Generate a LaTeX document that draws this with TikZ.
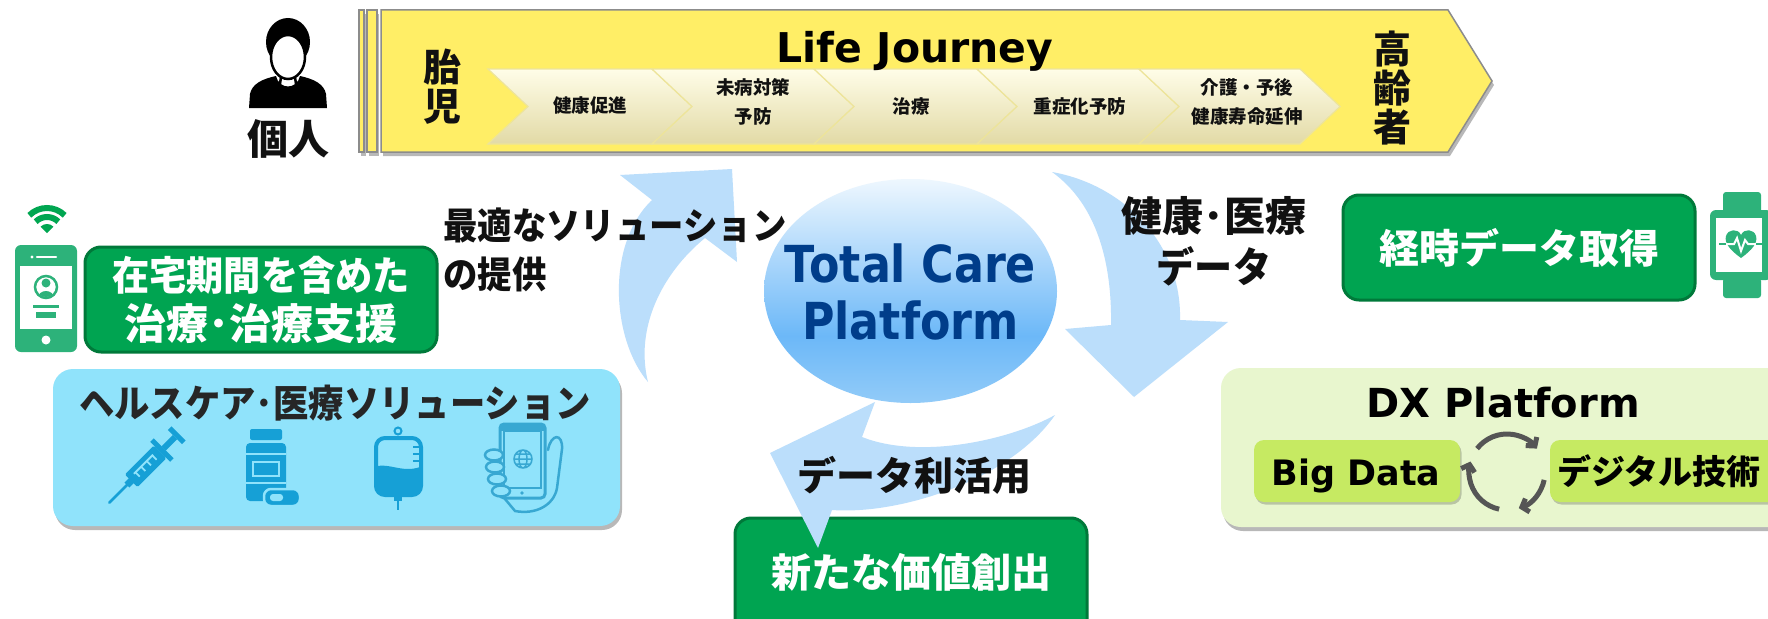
\documentclass[tikz,border=0pt]{standalone}
\usepackage{fontspec}
\setmainfont{DejaVu Sans}
\newfontfamily\jp{Noto Sans CJK JP}
\newfontfamily\jpc{Noto Sans CJK JP}[FakeStretch=0.93]
\newfontfamily\tcpsans{DejaVu Sans}[FakeStretch=0.87]
\usetikzlibrary{shadows,arrows.meta,calc,shapes.geometric}

\definecolor{bannerY}{HTML}{FFEE66}
\definecolor{bannerEdge}{HTML}{8C8C8C}
\definecolor{chevTop}{HTML}{FFFDE8}
\definecolor{chevBot}{HTML}{E2DAA6}
\definecolor{chevEdge}{HTML}{EDE49A}
\definecolor{goodGreen}{HTML}{00A451}
\definecolor{darkGreen}{HTML}{00793A}
\definecolor{iconGreen}{HTML}{2DB27A}
\definecolor{wifiGreen}{HTML}{00A651}
\definecolor{arrowBlue}{HTML}{BBDEFB}
\definecolor{navy}{HTML}{003D8A}
\definecolor{hcBox}{HTML}{90E3FB}
\definecolor{hcIcon}{HTML}{16A0D6}
\definecolor{hcHand}{HTML}{38A8D2}
\definecolor{dxBox}{HTML}{E8F6CE}
\definecolor{dxItem}{HTML}{C6EA62}
\definecolor{cycleGray}{HTML}{555555}
\definecolor{tcpTop}{HTML}{EEF7FE}
\definecolor{tcpMid}{HTML}{6CB8F8}
\definecolor{tcpBot}{HTML}{92CBF8}
\definecolor{inkBlack}{HTML}{111111}

\pgfdeclareverticalshading{tcpshade}{100bp}{color(0bp)=(tcpBot); color(25bp)=(tcpBot); color(40bp)=(tcpMid); color(75bp)=(tcpTop); color(100bp)=(tcpTop)}

\newcommand\jpb[2]{\jp\bfseries\fontsize{#1}{#2}\selectfont}
\newcommand\jpcb[2]{\jpc\bfseries\fontsize{#1}{#2}\selectfont}
\newcommand\latb[2]{\bfseries\fontsize{#1}{#2}\selectfont}

\tikzset{
  jplabel/.style={inner sep=0pt, align=center, text=inkBlack, font=\jpb{40}{49}},
  chevshape/.style={draw=chevEdge, line width=1.2pt, top color=chevTop, bottom color=chevBot},
  chevtext/.style={inner sep=0pt, align=center, text=inkBlack, font=\jpb{18.5}{29}},
  greenpanel/.style={fill=goodGreen, draw=darkGreen, line width=3pt, rounded corners=16pt, inner sep=0pt},
  paneltext/.style={inner sep=0pt, align=center, text=white, font=\jpb{40}{49}},
  softshadow/.style={drop shadow={shadow xshift=2pt, shadow yshift=-4pt, opacity=0.28, fill=black}},
  flowarrow/.style={fill=arrowBlue},
  cyclearc/.style={draw=cycleGray, line width=5pt, -{Straight Barb[length=6pt,width=14pt]}},
}

\begin{document}
\begin{tikzpicture}[x=1pt,y=-1pt]
\clip (0,0) rectangle (1768,618);
\fill[white] (0,0) rectangle (1768,618);

% ---------- life journey banner ----------
\draw[fill=bannerY, draw=bannerEdge, line width=1.5pt, softshadow] (359,10) rectangle (364,152);
\draw[fill=bannerY, draw=bannerEdge, line width=1.5pt, softshadow] (367,10) rectangle (377,152);
\draw[fill=bannerY, draw=bannerEdge, line width=1.5pt, softshadow]
  (381,10) -- (1448,10) -- (1492,81) -- (1448,152) -- (381,152) -- cycle;

\foreach \a/\b in {488/652, 652/814, 814/977, 977/1139, 1139/1300}
  \path[chevshape] (\a,69) -- (\b,69) -- (\b+40,106.5) -- (\b,144) -- (\a,144) -- (\a+40,106.5) -- cycle;

\node[inner sep=0pt, anchor=base, text=black, font=\latb{41}{49}] (lifej) at (915,63) {Life Journey};
\node[jplabel, font=\jpb{38}{39}] (fetus) at (442,87) {胎\\児};
\node[jplabel, font=\jpb{38}{39}] (elder) at (1392,88) {高\\齢\\者};

\node[chevtext] (stage1) at (590,106) {健康促進};
\node[chevtext] (stage2) at (753,102) {未病対策\\予防};
\node[chevtext] (stage3) at (911,106) {治療};
\node[chevtext] (stage4) at (1080,106) {重症化予防};
\node[chevtext] (stage5) at (1247,102) {介護・予後\\健康寿命延伸};

% ---------- person ----------
\fill[black] (249,108) -- (250,94) .. controls (252,84) and (262,79) .. (276,76)
  .. controls (279,90) and (297,90) .. (300,76)
  .. controls (314,79) and (324,84) .. (326,94) -- (327,108) -- cycle;
\fill[black] (288,42) ellipse [x radius=22, y radius=24];
\filldraw[fill=white, draw=black, line width=2.5pt] (288,57) ellipse [x radius=17, y radius=22];
\draw[black, line width=2.5pt] (281,77) -- (280,84) (295,77) -- (296,84);
\node[jplabel, font=\jpb{41}{49}] (person) at (288,139) {個人};

% ---------- flow arrows ----------
\fill[flowarrow] (648,382) .. controls (612,340) and (605,245) .. (652,200)
  -- (620,175) -- (732,169) -- (737,262) -- (705,238)
  .. controls (660,275) and (635,330) .. (648,382) -- cycle;
\fill[flowarrow] (1052,172) .. controls (1125,185) and (1182,245) .. (1180,320)
  -- (1228,322) -- (1134,397) -- (1065,329) -- (1111,325)
  .. controls (1112,265) and (1098,205) .. (1052,172) -- cycle;

% ---------- new value box (under the lower arrow head) ----------
\node[greenpanel, minimum width=352pt, minimum height=120pt] (newvalue) at (911,578) {};
\fill[flowarrow] (1055,415) .. controls (1010,440) and (920,460) .. (862,437)
  -- (875,402) -- (770,453) -- (818,548) -- (832,510)
  .. controls (900,515) and (1010,480) .. (1055,415) -- cycle;
\node[paneltext] (newvaluetext) at (911,572) {新たな価値創出};

% ---------- platform ellipse ----------
\node[ellipse, shading=tcpshade, inner sep=0pt, minimum width=293pt, minimum height=224pt]
  (tcp) at (910.5,291) {};
\node[inner sep=0pt, align=center, text=navy, font=\tcpsans\bfseries\fontsize{51}{57}\selectfont]
  (tcplabel) at (910.5,292) {Total Care\\Platform};

% ---------- arrow labels ----------
\node[jplabel, anchor=west, align=left, font=\jpcb{37}{49}] (solution) at (443,250) {最適なソリューション\\の提供};
\node[jplabel, font=\jpb{41}{51}] (medicaldata) at (1214,241) {健康･医療\\{\jpcb{41}{51}データ}};
\node[jplabel, font=\jpb{39}{49}] (datause) at (914,475) {データ利活用};

% ---------- home care panel ----------
\fill[wifiGreen] (47,233) -- ($(47,233)+(-45:9)$) arc[start angle=-45, end angle=-135, radius=9] -- cycle;
\draw[wifiGreen, line width=6pt] ($(47,233)+(-45:16)$) arc[start angle=-45, end angle=-135, radius=16];
\draw[wifiGreen, line width=6pt] ($(47,233)+(-45:25)$) arc[start angle=-45, end angle=-135, radius=25];

\fill[iconGreen, rounded corners=6pt] (15,245) rectangle (77,352);
\fill[white] (20,266) rectangle (72,329);
\draw[white, line width=2.5pt, line cap=round] (37,257) -- (56,257);
\fill[white] (32,257) circle (1.6);
\fill[white] (46,340) circle (4.5);
\draw[iconGreen, line width=2.5pt] (46,287) circle (11);
\begin{scope}
  \clip (46,287) circle (10);
  \fill[iconGreen] (46,283) circle (4.5);
  \fill[iconGreen] (46,298) ellipse [x radius=8, y radius=7];
\end{scope}
\fill[iconGreen] (33,305) rectangle (59,308);
\fill[iconGreen] (36,312) rectangle (56,318);

\node[greenpanel, minimum width=352pt, minimum height=105pt] (homecare) at (261,299.5) {};
\node[paneltext] (homecaretext) at (261,299.5) {{\jpcb{40}{49}在宅期間を含めた}\\{\jpb{42}{49}治療･治療支援}};

% ---------- healthcare solutions panel ----------
\node[fill=hcBox, rounded corners=20pt, minimum width=567pt, minimum height=157pt, inner sep=0pt, softshadow]
  (hcpanel) at (336.5,447.5) {};
\node[jplabel, font=\jpcb{38}{45}, text=black!85] (hctitle) at (335,403) {ヘルスケア･医療ソリューション};

% syringe
\begin{scope}[shift={(146,466)}, rotate=45]
  \draw[hcIcon, line width=2.5pt, line cap=round] (-52,0) -- (-26,0);
  \fill[hcIcon] (-27,-3.5) rectangle (-20,3.5);
  \fill[hcIcon, rounded corners=1.5pt] (-21,-9) rectangle (20,9);
  \draw[hcBox, line width=1.8pt] (-14,-3) -- (13,-3);
  \draw[hcBox, line width=1.8pt] (-12,-3) -- (-12,3) (-4,-3) -- (-4,3) (4,-3) -- (4,3) (12,-3) -- (12,3);
  \fill[hcIcon] (20,-14) rectangle (25,14);
  \fill[hcIcon] (25,-3) rectangle (41,3);
  \fill[hcIcon] (41,-10) rectangle (46,10);
\end{scope}

% medicine bottle and capsule
\fill[hcIcon, rounded corners=2pt] (250,429) rectangle (282,440);
\fill[hcIcon, rounded corners=4pt] (246,443) rectangle (286,501);
\draw[hcBox, line width=2.5pt] (246,454) -- (286,454) (246,483) -- (286,483);
\draw[hcBox, line width=2.5pt] (253,462) rectangle (279,476);
\filldraw[fill=hcIcon, draw=hcBox, line width=2.5pt, rounded corners=7pt] (264,489) rectangle (300,506);
\fill[hcBox, rounded corners=3pt] (270,494) rectangle (283,501);

% drip bag
\draw[hcIcon, line width=2pt] (398,431) circle (3.5);
\draw[hcIcon, line width=4pt, rounded corners=9pt] (376,438) rectangle (421,495);
\begin{scope}
  \clip[rounded corners=9pt] (376,438) rectangle (421,495);
  \fill[hcIcon] (370,468) .. controls (390,460) and (402,476) .. (425,465) -- (425,500) -- (370,500) -- cycle;
\end{scope}
\draw[hcIcon, line width=2pt] (413,447) -- (421,447) (413,454) -- (421,454) (413,461) -- (421,461);
\fill[hcIcon] (394,495) rectangle (402,501);
\draw[hcIcon, line width=2pt] (398,501) -- (398,510);

% hand holding a phone
\draw[hcHand, line width=3pt, rounded corners=4pt] (500,424) rectangle (545,498);
\fill[hcHand] (500,424) rectangle (545,431);
\draw[hcHand, line width=2pt] (504,431) rectangle (541,488);
\fill[hcHand] (522,493) circle (1.8);
\draw[hcHand, line width=1.5pt] (523,459) circle (9) (523,459) ellipse [x radius=4, y radius=9]
  (514,459) -- (532,459) (515,454) -- (531,454) (515,464) -- (531,464);
\foreach \fy/\fx in {455/494, 467/495, 479/497, 491/501}
  \filldraw[fill=hcBox, draw=hcHand, line width=2.5pt] (\fx,\fy) ellipse [x radius=9, y radius=5.5];
\draw[hcHand, line width=2.5pt, line cap=round]
  (548,450) .. controls (551,433) and (563,433) .. (562,449) -- (557,488)
  .. controls (554,505) and (536,515) .. (515,511) -- (505,499);

% ---------- continuous data panel ----------
\node[greenpanel, minimum width=352pt, minimum height=105pt] (timedata) at (1519,247.5) {};
\node[paneltext] (timedatatext) at (1519,248) {経時データ取得};

% smartwatch
\fill[iconGreen, rounded corners=3pt] (1723,192) rectangle (1761,214);
\fill[iconGreen, rounded corners=3pt] (1723,278) rectangle (1761,298);
\fill[iconGreen, rounded corners=6pt] (1710,210) rectangle (1772,280);
\fill[white] (1716,218) rectangle (1762,272);
\fill[iconGreen] (1741,258) .. controls (1730,250) and (1724,243) .. (1726,236)
  .. controls (1728,229) and (1738,228) .. (1741,235)
  .. controls (1744,228) and (1754,229) .. (1756,236)
  .. controls (1758,243) and (1752,250) .. (1741,258) -- cycle;
\draw[white, line width=2pt] (1726,244) -- (1734,244) -- (1737,238) -- (1741,251) -- (1745,240) -- (1748,244) -- (1756,244);
\draw[iconGreen, line width=2pt] (1719,244) -- (1726,244) (1756,244) -- (1763,244);

% ---------- DX platform ----------
\node[fill=dxBox, rounded corners=20pt, minimum width=569pt, minimum height=159pt, inner sep=0pt, softshadow]
  (dxpanel) at (1505.5,447.5) {};
\node[inner sep=0pt, anchor=base, text=black, font=\latb{40}{48}] (dxtitle) at (1503,417) {DX Platform};
\node[fill=dxItem, rounded corners=10pt, minimum width=206pt, minimum height=62pt, inner sep=0pt,
      drop shadow={shadow xshift=1.5pt, shadow yshift=-2.5pt, opacity=0.2, fill=black}]
  (bigdata) at (1357,471) {};
\node[inner sep=0pt, anchor=base, text=black, font=\latb{35}{42}] (bigdatatext) at (1356,485) {Big Data};
\node[fill=dxItem, rounded corners=10pt, minimum width=240pt, minimum height=62pt, inner sep=0pt,
      drop shadow={shadow xshift=1.5pt, shadow yshift=-2.5pt, opacity=0.2, fill=black}]
  (digital) at (1670,471) {};
\node[jplabel, font=\jpb{34}{40}, text=black] (digitaltext) at (1659,471) {デジタル技術};

\begin{scope}[shift={(1507,472)}]
  \draw[cyclearc] (-142:38) arc[start angle=-142, end angle=-38, radius=38];
  \draw[cyclearc] (12:38) arc[start angle=12, end angle=72, radius=38];
  \draw[cyclearc] (102:38) arc[start angle=102, end angle=196, radius=38];
\end{scope}
\end{tikzpicture}
\end{document}
